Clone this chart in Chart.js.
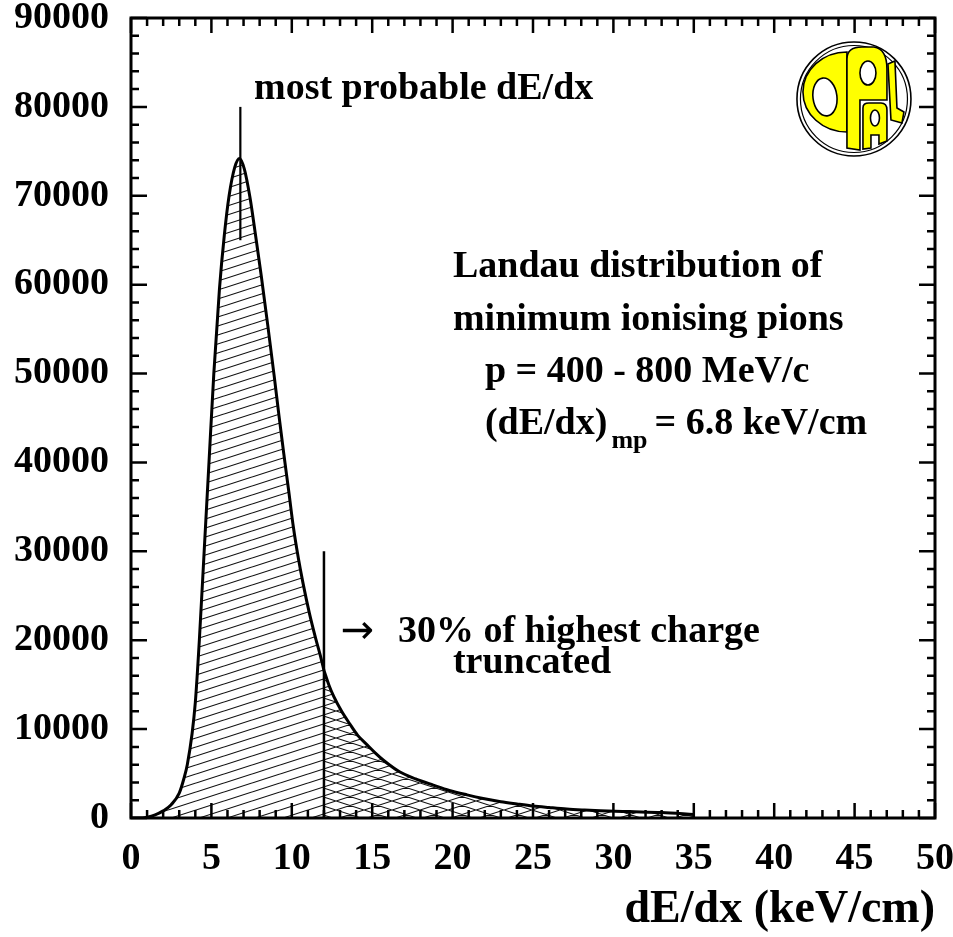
<!DOCTYPE html>
<html>
<head>
<meta charset="utf-8">
<script src="https://cdn.jsdelivr.net/npm/chart.js@4.4.1/dist/chart.umd.min.js"></script>
<style>
  html, body { margin: 0; padding: 0; background: #ffffff; }
  #wrap { width: 953px; height: 937px; }
</style>
</head>
<body>
<div id="wrap"><canvas id="c" width="953" height="937"></canvas></div>
<script>
// ---------------- data ----------------
const dedx = [0, 0.5, 1.0, 1.5, 2.0, 2.5, 3.0, 3.3, 3.5, 3.8, 4.0, 4.25, 4.55, 4.85, 5.15, 5.5, 5.8, 6.1, 6.45, 6.75,
  7.05, 7.4, 7.75, 8.1, 8.5, 8.9, 9.2, 9.5, 9.8, 10.1, 10.4, 10.7, 11.1, 11.5, 11.8, 12.0,
  12.3, 12.6, 13.1, 13.6, 14.1, 14.7, 15.2, 15.7, 16.7, 17.7, 18.8, 19.8, 20.9, 21.9, 23.0, 24.0, 25.0, 26.0, 27.1,
  28.2, 29.2, 31.0, 33.0, 35.0];
const counts = [0, 0, 100, 350, 800, 1500, 2800, 4500, 6000, 9500, 13000, 20000, 30000, 40000, 50000, 59500, 65500, 70000, 73200, 74200,
  73000, 69800, 65500, 61000, 55500, 49800, 45300, 41000, 36900, 32700, 29300, 26400, 23000, 20100, 18100, 16600,
  15000, 13700, 12000, 10600, 9300, 8200, 7300, 6500, 5200, 4400, 3700, 3100, 2600, 2200, 1830, 1580, 1350, 1180, 1010,
  900, 820, 720, 620, 400];
const truncationCut = 12.0;          // dE/dx where the 30% highest charge is truncated
const truncationMarkerY = [0, 30000];
const mostProbable = 6.8;            // (dE/dx)_mp
const mostProbableMarkerY = [65000, 80000];
const xLimits = [0, 50];
const yLimits = [0, 90000];
const xStep = 5, yStep = 10000;
const xTitle = 'dE/dx (keV/cm)';

// ---------------- derived series ----------------
const allPts = dedx.map((x, i) => ({ x: x, y: counts[i] }));
const lowPart = allPts.filter(p => p.x <= truncationCut);
const highPart = allPts.filter(p => p.x >= truncationCut);

const canvas = document.getElementById('c');
const ctx = canvas.getContext('2d');

function hatch(dirs, W, H) {
  const c = document.createElement('canvas');
  c.width = W; c.height = H;
  const g = c.getContext('2d');
  g.strokeStyle = '#111';
  g.lineWidth = 1.1;
  g.beginPath();
  for (let k = -1; k <= 1; k++) {
    if (dirs.includes('/')) { g.moveTo(0, H + k * H); g.lineTo(W, k * H); }
    if (dirs.includes('\\')) { g.moveTo(0, k * H); g.lineTo(W, H + k * H); }
  }
  g.stroke();
  return ctx.createPattern(c, 'repeat');
}
const singleHatch = hatch('/', 28, 9);
const crossHatch = hatch('/\\', 28, 9);

const FONT = "'Liberation Serif', 'Times New Roman', serif";

// ---------------- plugins ----------------
const framePlugin = {
  id: 'frame',
  afterDatasetsDraw(chart) {
    const { ctx, chartArea: a, scales: { x, y } } = chart;
    ctx.save();
    ctx.strokeStyle = '#000';
    ctx.lineWidth = 2.5;
    ctx.beginPath();
    for (let v = xLimits[0]; v <= xLimits[1] + 1e-9; v += 1) {
      const px = x.getPixelForValue(v);
      const len = (Math.abs(v % xStep) < 1e-9) ? 15 : 8;
      ctx.moveTo(px, a.bottom); ctx.lineTo(px, a.bottom - len);
      ctx.moveTo(px, a.top); ctx.lineTo(px, a.top + len);
    }
    for (let v = yLimits[0]; v <= yLimits[1] + 1e-9; v += 2000) {
      const py = y.getPixelForValue(v);
      const len = (Math.abs(v % yStep) < 1e-9) ? 16 : 8;
      ctx.moveTo(a.left, py); ctx.lineTo(a.left + len, py);
      ctx.moveTo(a.right, py); ctx.lineTo(a.right - len, py);
    }
    ctx.stroke();
    ctx.lineWidth = 3;
    ctx.strokeRect(a.left, a.top, a.right - a.left, a.bottom - a.top);
    ctx.restore();
  }
};

function drawLogo(ctx, cx, cy, r) {
  const s = r / 57;
  ctx.save();
  ctx.translate(cx, cy);
  ctx.scale(s, s);
  ctx.strokeStyle = '#000';
  ctx.fillStyle = '#ffffff';
  ctx.lineWidth = 1.6;
  ctx.beginPath(); ctx.arc(0, 0, 57, 0, Math.PI * 2); ctx.fill(); ctx.stroke();
  ctx.lineWidth = 1.2;
  ctx.beginPath(); ctx.arc(0, 0, 53.5, 0, Math.PI * 2); ctx.stroke();
  const Y = '#ffff00';
  ctx.lineWidth = 1.6;
  // O
  ctx.beginPath();
  ctx.moveTo(-7, -47);
  ctx.ellipse(-7, -7, 44, 40, 0, -Math.PI / 2, Math.PI / 2, true);
  ctx.closePath();
  ctx.fillStyle = Y; ctx.fill(); ctx.stroke();
  ctx.beginPath(); ctx.ellipse(-29, -2, 12, 19, -0.12, 0, Math.PI * 2);
  ctx.fillStyle = '#fff'; ctx.fill(); ctx.stroke();
  // P
  ctx.beginPath();
  ctx.moveTo(-7, 49);
  ctx.lineTo(-7, -40);
  ctx.quadraticCurveTo(-7, -52, 8, -52);
  ctx.lineTo(20, -52);
  ctx.quadraticCurveTo(33, -50, 33, -30);
  ctx.lineTo(33, 1);
  ctx.lineTo(6, 1);
  ctx.lineTo(6, 51);
  ctx.closePath();
  ctx.fillStyle = Y; ctx.fill(); ctx.stroke();
  ctx.beginPath(); ctx.ellipse(14, -26, 8, 12, 0, 0, Math.PI * 2);
  ctx.fillStyle = '#fff'; ctx.fill(); ctx.stroke();
  // A
  ctx.beginPath();
  ctx.moveTo(9, 50);
  ctx.lineTo(9, 9);
  ctx.quadraticCurveTo(9, 4, 15, 4);
  ctx.lineTo(27, 4);
  ctx.quadraticCurveTo(33, 4, 33, 11);
  ctx.lineTo(33, 42);
  ctx.lineTo(25, 45);
  ctx.lineTo(25, 36);
  ctx.lineTo(17, 36);
  ctx.lineTo(17, 49);
  ctx.closePath();
  ctx.fillStyle = Y; ctx.fill(); ctx.stroke();
  ctx.beginPath(); ctx.ellipse(21, 19, 4.5, 8, 0, 0, Math.PI * 2);
  ctx.fillStyle = '#fff'; ctx.fill(); ctx.stroke();
  // L
  ctx.beginPath();
  ctx.moveTo(34, -35);
  ctx.lineTo(41, -38);
  ctx.lineTo(43, 9);
  ctx.lineTo(50, 13);
  ctx.lineTo(48, 24);
  ctx.lineTo(37, 21);
  ctx.closePath();
  ctx.fillStyle = Y; ctx.fill(); ctx.stroke();
  ctx.restore();
}

const textPlugin = {
  id: 'texts',
  afterDraw(chart) {
    const { ctx, scales: { x, y } } = chart;
    const P = (vx, vy) => [x.getPixelForValue(vx), y.getPixelForValue(vy)];
    ctx.save();
    ctx.fillStyle = '#000';
    ctx.textAlign = 'left';
    ctx.textBaseline = 'alphabetic';
    const bold = "bold 38px " + FONT;
    ctx.font = bold;
    let p;
    p = P(7.65, 80890); ctx.fillText('most probable dE/dx', p[0], p[1]);
    p = P(20.02, 60860); ctx.fillText('Landau distribution of', p[0], p[1]);
    p = P(20.02, 54900); ctx.fillText('minimum ionising pions', p[0], p[1]);
    p = P(22.01, 49050); ctx.fillText('p = 400 - 800 MeV/c', p[0], p[1]);
    p = P(22.01, 43200);
    ctx.fillText('(dE/dx)', p[0], p[1]);
    let w = ctx.measureText('(dE/dx)').width;
    ctx.font = "bold 26px " + FONT;
    ctx.fillText('mp', p[0] + w + 4, p[1] + 14);
    let w2 = ctx.measureText('mp').width;
    ctx.font = bold;
    ctx.fillText('= 6.8 keV/cm', p[0] + w + 4 + w2 + 7, p[1]);
    // arrow + truncation note
    p = P(13.05, 19800);
    ctx.font = "40px 'DejaVu Sans', sans-serif";
    ctx.fillText('\u2192', p[0], p[1] + 1);
    ctx.font = bold;
    p = P(16.6, 19800); ctx.fillText('30% of highest charge', p[0], p[1]);
    p = P(20.02, 16310); ctx.fillText('truncated', p[0], p[1]);
    // OPAL logo
    p = P(44.96, 80890);
    drawLogo(ctx, p[0], p[1], 57);
    ctx.restore();
  }
};

// ---------------- chart ----------------
new Chart(canvas, {
  type: 'line',
  data: {
    datasets: [
      {
        label: 'most probable',
        data: mostProbableMarkerY.map(v => ({ x: mostProbable, y: v })),
        borderColor: '#000', borderWidth: 2.2, pointRadius: 0, fill: false
      },
      {
        label: 'truncation',
        data: truncationMarkerY.map(v => ({ x: truncationCut, y: v })),
        borderColor: '#000', borderWidth: 2.5, pointRadius: 0, fill: false
      },
      {
        label: 'kept',
        data: lowPart,
        borderColor: '#000', borderWidth: 3, pointRadius: 0,
        backgroundColor: singleHatch, fill: 'origin',
        cubicInterpolationMode: 'monotone'
      },
      {
        label: 'truncated',
        data: highPart,
        borderColor: '#000', borderWidth: 3, pointRadius: 0,
        backgroundColor: crossHatch, fill: 'origin',
        cubicInterpolationMode: 'monotone'
      }
    ]
  },
  options: {
    responsive: false,
    animation: false,
    devicePixelRatio: 1,
    layout: { padding: { top: 18, right: 18, left: 0, bottom: 0 } },
    plugins: { legend: { display: false }, tooltip: { enabled: false } },
    scales: {
      x: {
        type: 'linear', min: xLimits[0], max: xLimits[1],
        grid: { display: false, drawTicks: false },
        border: { display: false },
        ticks: { stepSize: xStep, color: '#000', padding: 22, maxRotation: 0,
          callback: v => String(v),
          font: { family: FONT, size: 38, weight: 'bold', lineHeight: 1.0 } },
        title: { display: true, text: xTitle, align: 'end', color: '#000', padding: 0,
          font: { family: FONT, size: 46, weight: 'bold', lineHeight: 1.15 } },
        afterFit(scale) { scale.height = 119; scale.paddingLeft = 0; scale.paddingRight = 0; }
      },
      y: {
        type: 'linear', min: yLimits[0], max: yLimits[1],
        grid: { display: false, drawTicks: false },
        border: { display: false },
        ticks: { stepSize: yStep, color: '#000', padding: 22,
          callback: v => String(v),
          font: { family: FONT, size: 38, weight: 'bold', lineHeight: 0.9 } },
        afterFit(scale) { scale.width = 131; scale.paddingTop = 0; scale.paddingBottom = 0; }
      }
    }
  },
  plugins: [framePlugin, textPlugin]
});
</script>
</body>
</html>
